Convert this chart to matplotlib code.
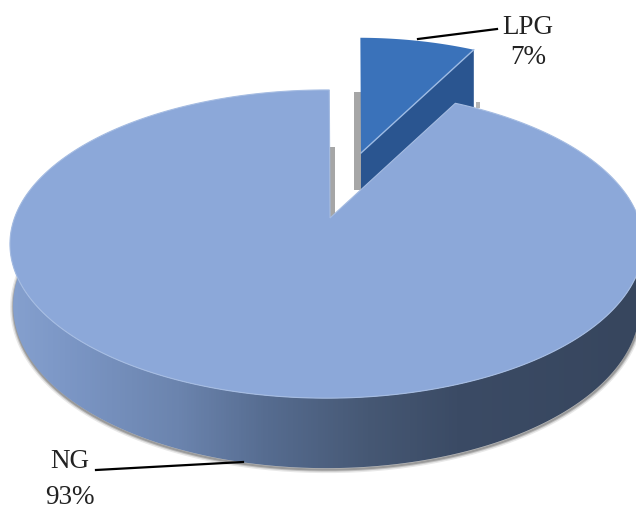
import numpy as np
import matplotlib
matplotlib.use("Agg")
import matplotlib.pyplot as plt
from matplotlib.colors import LinearSegmentedColormap
from matplotlib.patches import Polygon, Rectangle

# values, labels as printed on the chart
fuels = ["LPG", "NG"]
shares = [7.7, 92.3]
share_labels = ["7%", "93%"]

# perspective of the pie disc, all in image pixels
CX, CY = 326.5, 218
APEX_X = 330
A, B, K = 312, 149.7, 0.169


def project(theta):
    u = np.cos(np.radians(theta))
    v = np.sin(np.radians(theta))
    w = 1 + K * v
    return CX + A * u / w, CY - B * v / w


def project_bottom(theta):
    # lower rim of the disc, a bit narrower and further down
    x, y = project(theta)
    v = np.sin(np.radians(theta))
    return CX + (x - CX) * 0.99, y + 60 - 10 * v


def wedge_points(t1, t2):
    t = np.linspace(t1, t2, 300)
    x, y = project(t)
    return np.column_stack([np.r_[APEX_X, x], np.r_[CY, y]])


fig = plt.figure(figsize=(6.36, 5.14), dpi=100)
ax = fig.add_axes([0, 0, 1, 1])

# let the pie work out the angles, then redraw the slices in perspective
wedges, _ = ax.pie(shares, startangle=89.4, counterclock=False)
angles = [(w.theta1, w.theta2) for w in wedges]
for w in wedges:
    w.remove()
ax.set_aspect("auto")
ax.set_xlim(0, 636)
ax.set_ylim(514, 0)
ax.axis("off")

# grey shadows in the gap between the slices
ax.add_patch(Rectangle((329, 147), 6, 71, color="#a6a6a6", lw=0, zorder=1))
ax.add_patch(Rectangle((354, 92), 7, 98, color="#a6a6a6", lw=0, zorder=1))
ax.add_patch(Rectangle((476, 102), 4, 6, color="#b5b5b5", lw=0, zorder=1))

# LPG slice, pulled out and a little smaller
lpg = wedge_points(*angles[0])
lpg = (lpg - [APEX_X, CY]) * 0.9 + [361, 153]
tip = lpg[1]
side = np.array([lpg[0], tip, tip + [0, 58], lpg[0] + [0, 58]])
ax.add_patch(Polygon(side, closed=True, fc="#2a5590", ec="none", zorder=2))
ax.add_patch(Polygon(lpg, closed=True, fc="#3a72ba", ec="none", zorder=3))
ax.plot([lpg[0][0], tip[0]], [lpg[0][1], tip[1]], color="#9dbbe4", lw=1, zorder=4)

# NG side wall with the dark-to-the-right shading
t = np.linspace(170, 370, 400)
top_x, top_y = project(t)
bot_x, bot_y = project_bottom(t)
wall = np.column_stack([np.r_[top_x, bot_x[::-1]], np.r_[top_y, bot_y[::-1]]])

# soft grey shadow under the wall
for lw, alpha in [(5, 0.18), (3, 0.35), (1.5, 0.6)]:
    ax.plot(bot_x + 0.5, bot_y + 1.5, color="#808080", lw=lw, alpha=alpha, zorder=4)

cmap = LinearSegmentedColormap.from_list(
    "wall",
    [(0, "#87a2d0"), (0.1, "#7c97c6"), (0.28, "#6b84ae"), (0.42, "#566c90"),
     (0.58, "#465874"), (0.72, "#3b4b65"), (1, "#37465e")],
)
img = ax.imshow(np.linspace(0, 1, 636)[None, :], cmap=cmap, extent=(0, 636, 514, 0),
                aspect="auto", zorder=5)
wall_patch = Polygon(wall, closed=True, fc="none", ec="none", transform=ax.transData)
ax.add_patch(wall_patch)
img.set_clip_path(wall_patch)

# NG top face
ng = wedge_points(*angles[1])
ax.add_patch(Polygon(ng, closed=True, fc="#8ca8d9", ec="#a5bce2", lw=0.8, zorder=6))

ax.set_xlim(0, 636)
ax.set_ylim(514, 0)

# leader lines and labels
ax.plot([418, 497], [39, 29], color="black", lw=1.6, zorder=7)
ax.plot([96, 243], [470, 462], color="black", lw=1.6, zorder=7)

serif = "Liberation Serif"
ax.text(528, 27, fuels[0], family=serif, fontsize=19.5, color="#222222", ha="center", va="center", zorder=8)
ax.text(528, 58, share_labels[0], family=serif, fontsize=19.5, color="#222222", ha="center", va="center", zorder=8)
ax.text(70, 462, fuels[1], family=serif, fontsize=19.5, color="#222222", ha="center", va="center", zorder=8)
ax.text(70, 497, share_labels[1], family=serif, fontsize=19.5, color="#222222", ha="center", va="center", zorder=8)

fig.savefig("out.png", dpi=100)
